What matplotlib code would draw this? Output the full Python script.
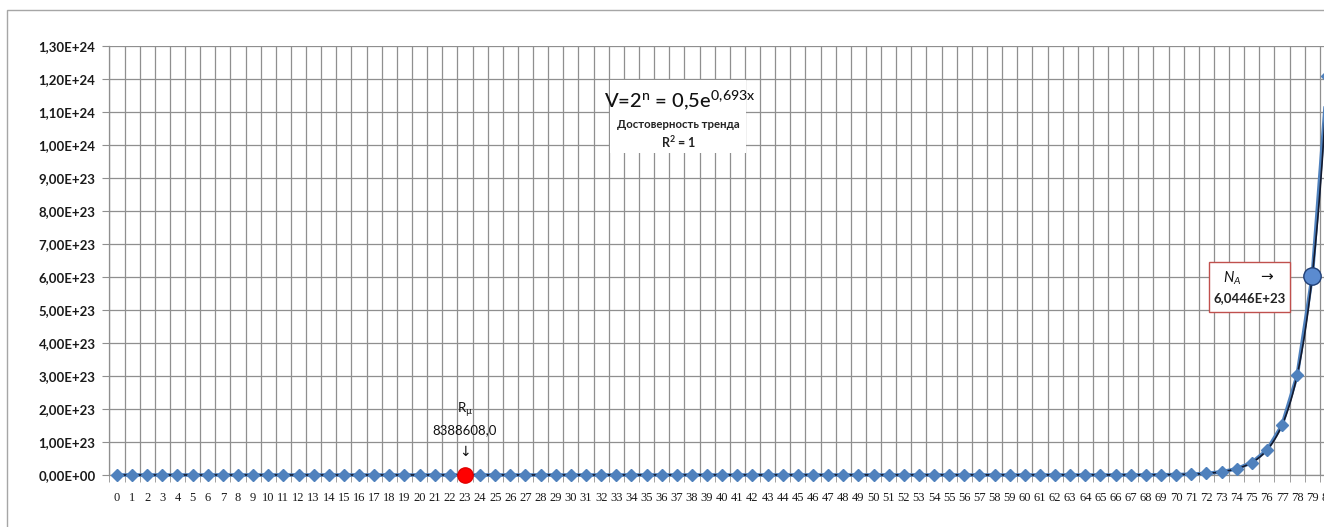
import numpy as np
import matplotlib
matplotlib.use("Agg")
import matplotlib.pyplot as plt
from matplotlib.patches import Rectangle

# ---------------- data ----------------
categories = list(range(81))
values = [
    1, 2, 4, 8, 16, 32, 64, 128, 256, 512,
    1024, 2048, 4096, 8192, 16384, 32768, 65536, 131072, 262144, 524288,
    1048576, 2097152, 4194304, 8388608, 16777216, 33554432, 67108864,
    134217728, 268435456, 536870912,
    1073741824, 2147483648, 4294967296, 8589934592, 17179869184,
    34359738368, 68719476736, 137438953472, 274877906944, 549755813888,
    1099511627776, 2199023255552, 4398046511104, 8796093022208,
    17592186044416, 35184372088832, 70368744177664, 140737488355328,
    281474976710656, 562949953421312,
    1125899906842624, 2251799813685248, 4503599627370496, 9007199254740992,
    18014398509481984, 36028797018963968, 72057594037927936,
    144115188075855872, 288230376151711744, 576460752303423488,
    1152921504606846976, 2305843009213693952, 4611686018427387904,
    9223372036854775808, 18446744073709551616, 36893488147419103232,
    73786976294838206464, 147573952589676412928, 295147905179352825856,
    590295810358705651712,
    1180591620717411303424, 2361183241434822606848, 4722366482869645213696,
    9444732965739290427392, 18889465931478580854784, 37778931862957161709568,
    75557863725914323419136, 151115727451828646838272,
    302231454903657293676544, 604462909807314587353088,
    1208925819614629174706176,
]
y_ticks = [0.0, 1e23, 2e23, 3e23, 4e23, 5e23, 6e23, 7e23, 8e23, 9e23,
           1e24, 1.1e24, 1.2e24, 1.3e24]
mu_index = 23
na_index = 79
mu_label = "8388608,0"
na_label = "6,0446E+23"

# ---------------- style ----------------
plt.rcParams["font.family"] = ["Lato", "DejaVu Sans"]
plt.rcParams["mathtext.fontset"] = "custom"
plt.rcParams["mathtext.rm"] = "Lato"
plt.rcParams["mathtext.it"] = "Lato:italic"
plt.rcParams["mathtext.bf"] = "Lato:bold"

W, H = 1324, 527
fig = plt.figure(figsize=(W / 100, H / 100), dpi=100)
ax = fig.add_axes([109.4 / W, 1 - 475 / H, (1335 - 109.4) / W, (475 - 46) / H])

grid_c = "#8f8f8f"
blue = "#4F81BD"

x = np.array(categories, dtype=float)
y = np.array([float(v) for v in values])

# series line
ax.plot(x, y, color=blue, lw=2.6, zorder=3, clip_on=False)
# exponential trendline fitted to the data
coef = np.polyfit(x, np.log(y), 1)
xs = np.linspace(x.min(), x.max(), 1601)
ax.plot(xs, np.exp(np.polyval(coef, xs)), color="#141a2e", lw=1.2, zorder=4,
        clip_on=False)
# markers
ax.plot(x, y, ls="none", marker="D", ms=6.6, color=blue, mec=blue,
        zorder=5, clip_on=False)
ax.plot(x[mu_index], y[mu_index], "o", ms=11, color="#ff0000", mec="#e00000",
        zorder=6, clip_on=False)
ax.plot(x[na_index], y[na_index], "o", ms=12.5, mfc="#5B8BD0", mec="#1F3F77",
        mew=1.0, zorder=6, clip_on=False)

# axes
ax.set_xlim(-0.5, 80.5)
ax.set_ylim(0, 1.3e24)
ax.set_xticks(x)
ax.set_xticklabels([str(c) for c in categories], fontfamily="Liberation Serif",
                   fontsize=9, color="#1a1a1a")
ax.set_xticks(np.arange(-0.5, 81, 1), minor=True)
ax.tick_params(axis="x", which="major", length=0, pad=12)
ax.tick_params(axis="x", which="minor", length=5, color=grid_c, direction="out")
ax.grid(axis="x", which="minor", color=grid_c, lw=0.9)
ax.set_yticks(y_ticks)
ax.set_yticklabels([f"{v:.2E}".replace(".", ",") for v in y_ticks],
                   fontsize=9.5, fontweight="bold", color="#1a1a1a")
ax.tick_params(axis="y", length=5, color=grid_c, pad=5)
ax.grid(axis="y", which="major", color=grid_c, lw=0.9)
ax.set_axisbelow(True)
for s in ("top", "right"):
    ax.spines[s].set_visible(False)
for s in ("left", "bottom"):
    ax.spines[s].set_color(grid_c)
    ax.spines[s].set_linewidth(0.9)

# equation box
ax.add_patch(Rectangle((32.6, 9.76e23), 9.0, 2.21e23, facecolor="white",
                       edgecolor="none", zorder=2))
ax.text(37.2, 11.36e23,
        r"V=2$^{\mathregular{n}}$ = 0,5e$^{\mathregular{0,\!693x}}$",
        ha="center", va="center", fontsize=14.5, fontweight="medium",
        color="#111111", zorder=7)
ax.text(37.1, 10.62e23, "Достоверность тренда", ha="center", va="center",
        fontsize=8.2, fontweight="bold", color="#222222", zorder=7)
ax.text(37.1, 10.1e23, r"R$^{\mathregular{2}}$ = 1", ha="center", va="center",
        fontsize=9, fontweight="bold", color="#222222", zorder=7)

# R_mu annotation
ax.text(x[mu_index], 1.97e23, r"R$_{\mathregular{µ}}$", ha="center", va="center",
        fontsize=9.5, color="#111111", zorder=7)
ax.text(x[mu_index], 1.36e23, mu_label, ha="center", va="center",
        fontsize=9.5, color="#111111", zorder=7)
ax.text(x[mu_index], 0.70e23, "↓", ha="center", va="center",
        fontsize=10, color="#111111", family="DejaVu Sans", zorder=7)

# N_A annotation
ax.add_patch(Rectangle((72.2, 4.94e23), 5.3, 1.51e23, facecolor="white",
                       edgecolor="#c0504d", lw=1.0, zorder=6))
ax.text(73.7, 5.97e23, r"$\mathit{N_A}$", ha="center", va="center",
        fontsize=10.5, color="#111111", zorder=7)
ax.text(76.0, 5.99e23, "→", ha="center", va="center", fontsize=11,
        family="DejaVu Sans", color="#111111", zorder=7)
ax.text(74.85, 5.36e23, na_label, ha="center", va="center", fontsize=9.5,
        fontweight="bold", color="#222222", zorder=7)

# chart area border
fig.add_artist(Rectangle((7 / W, -0.1), 1.2, 1 - 10 / H + 0.1,
                         transform=fig.transFigure, facecolor="none",
                         edgecolor="#a6a6a6", lw=1.0))

fig.savefig("out.png", dpi=100)
